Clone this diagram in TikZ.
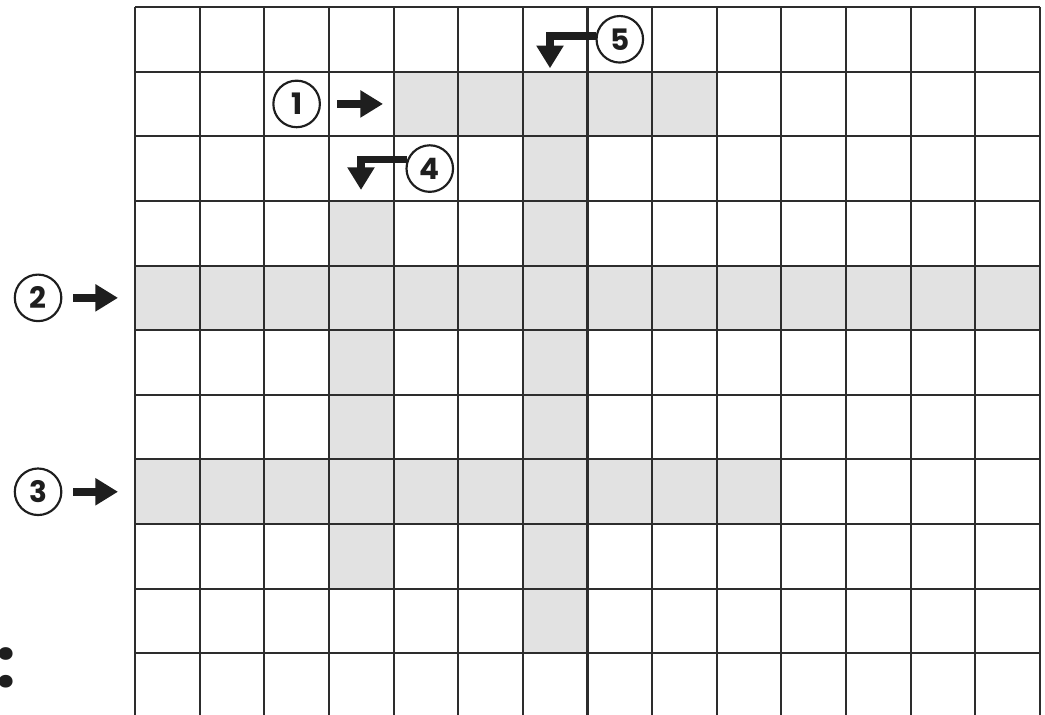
\documentclass[tikz,border=0pt]{standalone}
\usepackage{fontspec}
\setmainfont{Liberation Sans}
\newfontfamily\numfont{Poppins}
\usepackage{xcolor}
\definecolor{cellgray}{RGB}{226,226,226}
\definecolor{gridline}{RGB}{45,45,45}
\definecolor{inkblack}{RGB}{30,30,30}
\usetikzlibrary{arrows.meta,positioning,calc}

\begin{document}
\begin{tikzpicture}[
    numcirc/.style={circle, draw=inkblack, line width=0.95pt,
                 minimum size=0.72cm, inner sep=0pt,
                 font=\numfont\fontsize{13}{14}\selectfont\bfseries, text=inkblack},
    arr/.style={-{Triangle[length=0.35cm, width=0.40cm]}, line width=3.3pt, inkblack},
    gridln/.style={gridline, line width=0.9pt},
    shade/.style={fill=cellgray, draw=none},
  ]
    \useasboundingbox (-2.089,0.108) rectangle (14.078,-10.953);

    \fill[shade] (4,-1) rectangle (9,-2);
    \fill[shade] (6,-1) rectangle (7,-10);
    \fill[shade] (3,-3) rectangle (4,-9);
    \fill[shade] (0,-4) rectangle (14,-5);
    \fill[shade] (0,-7) rectangle (10,-8);

    \foreach \r in {0,...,10}
      \draw[gridln] (0,-\r) -- (14,-\r);
    \foreach \c in {0,...,14}
      \draw[gridln] (\c,0) -- (\c,-10.953);

    \node[numcirc] (one)   at (2.5,-1.5)  {1};
    \node[numcirc] (two)   at (-1.5,-4.5) {2};
    \node[numcirc] (three) at (-1.5,-7.5) {3};
    \node[numcirc] (four)  at (4.56,-2.5) {4};
    \node[numcirc] (five)  at (7.5,-0.5)  {5};

    \coordinate (one-s)   at (3.125,-1.5);
    \coordinate (one-e)   at (3.837,-1.5);
    \coordinate (two-s)   at (-0.959,-4.5);
    \coordinate (two-e)   at (-0.263,-4.5);
    \coordinate (three-s) at (-0.959,-7.5);
    \coordinate (three-e) at (-0.263,-7.5);
    \coordinate (four-e)  at (3.496,-2.831);
    \coordinate (five-e)  at (6.42,-0.948);

    \draw[arr] (one-s) -- (one-e);
    \draw[arr] (two-s) -- (two-e);
    \draw[arr] (three-s) -- (three-e);
    \draw[arr] (four.158) -| (four-e);
    \draw[arr] (five.172) -| (five-e);

    \node[inner sep=0pt, text=inkblack, font=\numfont\fontsize{30}{32}\selectfont\bfseries]
      (dots) at (-1.99,-10.22) {:};
  \end{tikzpicture}
\end{document}
